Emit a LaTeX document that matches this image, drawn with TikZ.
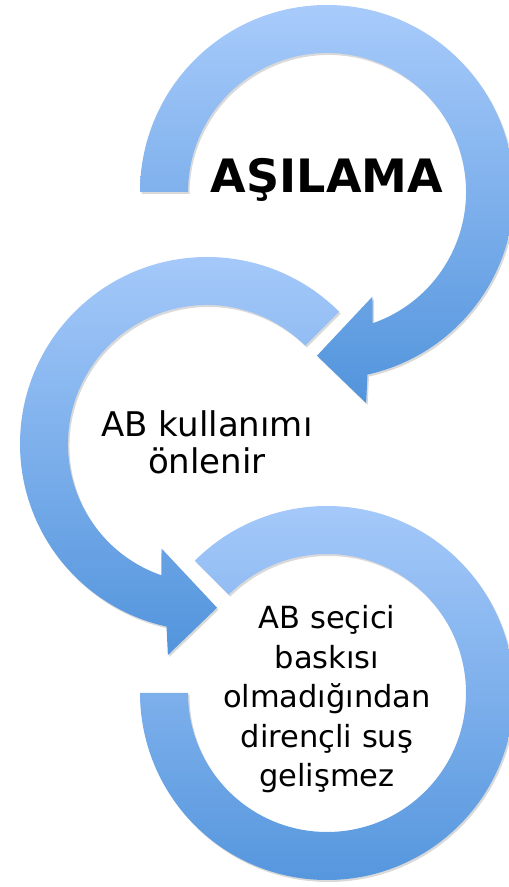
\documentclass[tikz,border=0pt]{standalone}
\usepackage{fontspec}
\setmainfont{DejaVu Sans}
\usetikzlibrary{shadows}
\definecolor{ringtop}{RGB}{168,203,251}
\definecolor{ringbot}{RGB}{82,148,220}
\tikzset{
  ring/.style={top color=ringtop, bottom color=ringbot, draw=none,
    drop shadow={opacity=.3, shadow xshift=1.5pt, shadow yshift=-2pt}},
  label/.style={align=center, inner sep=0pt, text=black}
}
\begin{document}
\begin{tikzpicture}[x=1pt,y=1pt]
  \useasboundingbox (0,0) rectangle (509,887);
  \coordinate (c1) at (327,695);
  \coordinate (c2) at (207,443);
  \coordinate (c3) at (327,194);
  % top arrow
  \path[ring,shift={(c1)}] (180:139) -- (180:187)
      arc[start angle=180,end angle=-77.5,radius=187]
      -- (-79.5:214.7) -- (-93.5:164) -- (-66.5:114) -- (-70.8:139)
      arc[start angle=-70.8,end angle=180,radius=139] -- cycle;
  % middle arrow
  \path[ring,shift={(c2)}] (45:139) -- (45:187)
      arc[start angle=45,end angle=257.5,radius=187]
      -- (259.5:214.7) -- (273.5:164) -- (246.5:114) -- (250.8:139)
      arc[start angle=250.8,end angle=45,radius=139] -- cycle;
  % bottom ring, no head
  \path[ring,shift={(c3)}] (135:139) -- (135:187)
      arc[start angle=135,end angle=-180,radius=187]
      -- (180:139)
      arc[start angle=180,end angle=495,radius=139] -- cycle;
  % base anchor = baseline of the last line
  \node[label, font=\bfseries\fontsize{46}{50}\selectfont, anchor=base] (vacc) at (327,694) {AŞILAMA};
  \node[label, font=\fontsize{34}{37}\selectfont, anchor=base] (abuse) at (207,413) {AB kullanımı\\önlenir};
  \node[label, font=\fontsize{30.5}{39.5}\selectfont, anchor=base] (resist) at (327,100) {AB seçici\\baskısı\\olmadığından\\dirençli suş\\gelişmez};
\end{tikzpicture}
\end{document}
